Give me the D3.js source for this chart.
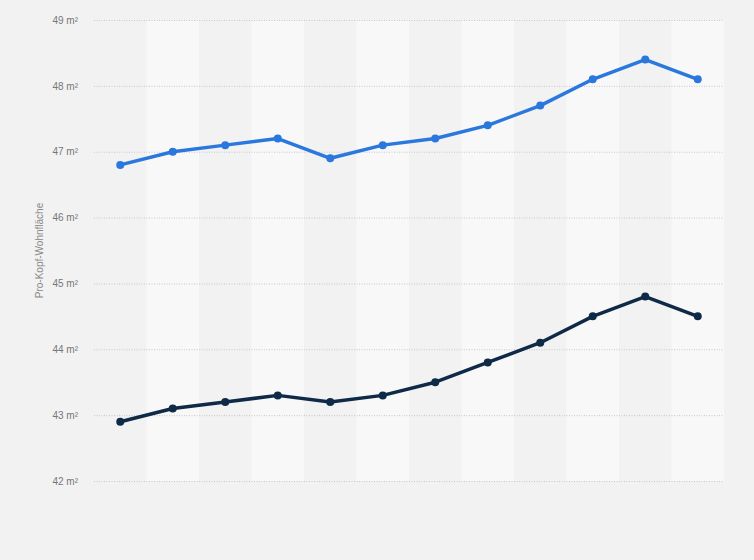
<!DOCTYPE html>
<html><head><meta charset="utf-8">
<script src="https://cdn.jsdelivr.net/npm/d3@7"></script>
<style>
html,body{margin:0;padding:0;background:#f2f2f2;}
svg{display:block;font-family:"Liberation Sans",Arial,sans-serif;}
</style></head>
<body><svg id="c" width="754" height="560"></svg>
<script>
const categories = ["1","2","3","4","5","6","7","8","9","10","11","12"];
const seriesA = [46.8, 47.0, 47.1, 47.2, 46.9, 47.1, 47.2, 47.4, 47.7, 48.1, 48.4, 48.1];
const seriesB = [42.9, 43.1, 43.2, 43.3, 43.2, 43.3, 43.5, 43.8, 44.1, 44.5, 44.8, 44.5];
const yTicks = [42, 43, 44, 45, 46, 47, 48, 49];
const yTitle = "Pro-Kopf-Wohnfläche";

const svg = d3.select("#c");
const m = {left: 94, right: 724, top: 20, bottom: 481};
const x = d3.scaleBand().domain(categories).range([m.left, m.right]).padding(0);
const y = d3.scaleLinear().domain([42, 49]).range([m.bottom, m.top]);

svg.append("rect").attr("width",754).attr("height",560).attr("fill","#f2f2f2");

// stripes
svg.append("g").selectAll("rect").data(categories).join("rect")
  .attr("x", d => x(d)).attr("y", m.top).attr("width", x.bandwidth()).attr("height", m.bottom - m.top)
  .attr("fill", (d,i) => i % 2 ? "#f8f8f8" : "#f2f2f2");

// y axis
const yAxis = d3.axisLeft(y).tickValues(yTicks).tickSize(-(m.right - m.left)).tickFormat(d => d + " m²");
const ga = svg.append("g").attr("transform", `translate(${m.left},0)`).call(yAxis);
ga.select(".domain").remove();
ga.selectAll(".tick line").attr("stroke","#c8c8c8").attr("stroke-dasharray","1,1.5").attr("stroke-width",1);
ga.selectAll(".tick text").attr("x",-16).attr("fill","#777").attr("font-size","10px");

svg.append("text").attr("transform",`translate(43,${(m.top+m.bottom)/2}) rotate(-90)`)
  .attr("text-anchor","middle").attr("font-size","10px").attr("fill","#888").text(yTitle);

const line = d3.line().x((d,i) => x(categories[i]) + x.bandwidth()/2).y(d => y(d));
function drawSeries(data, color){
  svg.append("path").datum(data).attr("d", line).attr("fill","none")
    .attr("stroke", color).attr("stroke-width",3.5).attr("stroke-linejoin","round");
  svg.append("g").selectAll("circle").data(data).join("circle")
    .attr("cx",(d,i) => x(categories[i]) + x.bandwidth()/2).attr("cy", d => y(d))
    .attr("r",4).attr("fill",color);
}
drawSeries(seriesA, "#2a78dd");
drawSeries(seriesB, "#0f2a47");
</script></body></html>
